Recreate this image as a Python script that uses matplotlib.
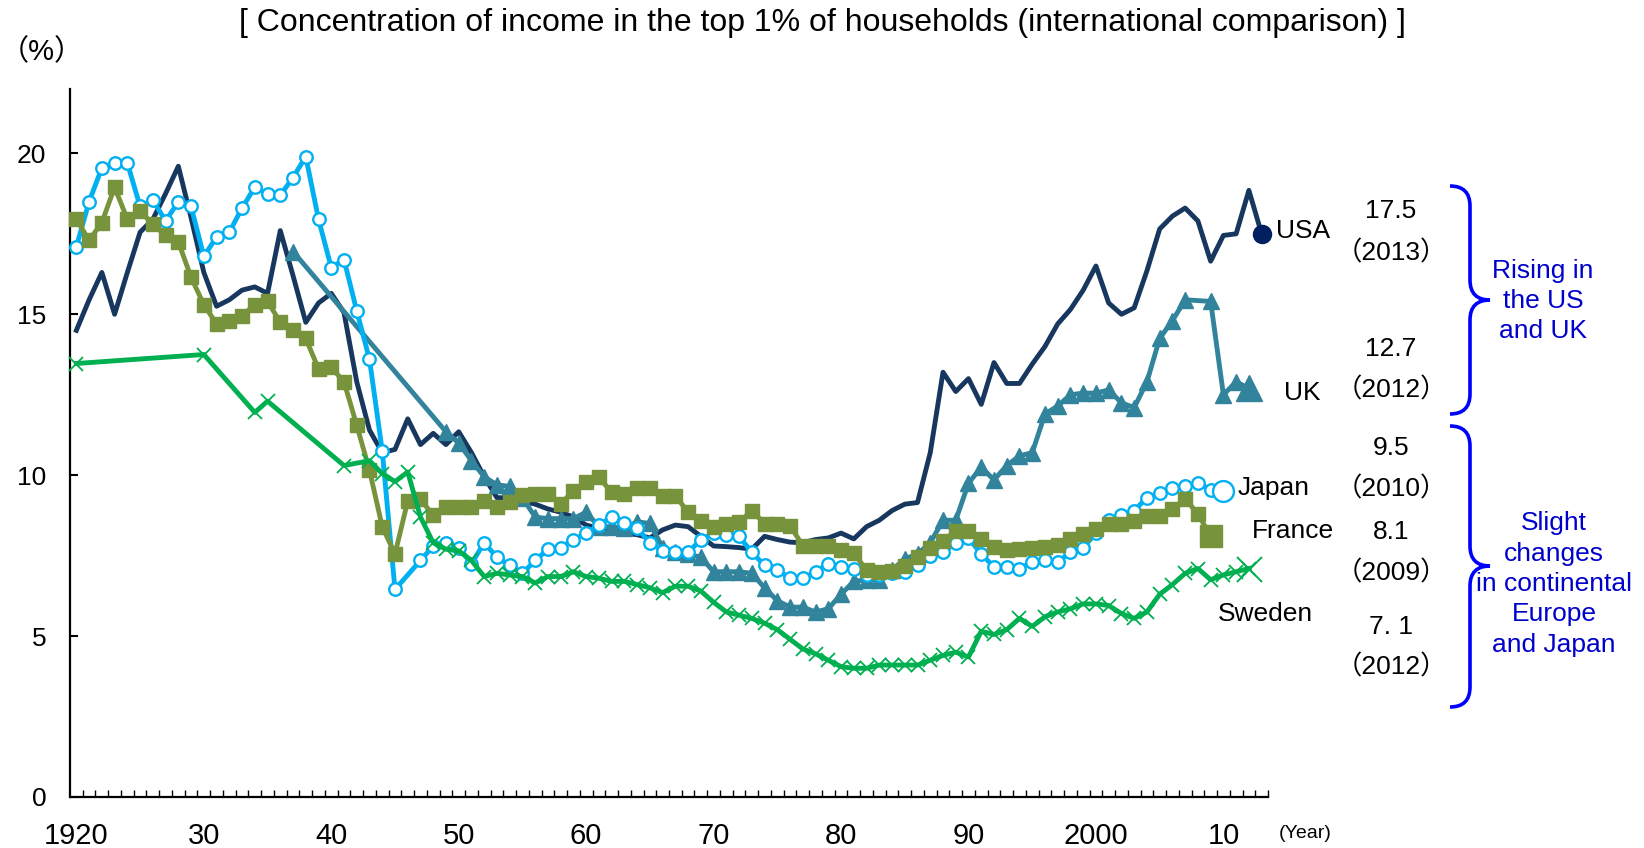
import numpy as np
import matplotlib
matplotlib.use("Agg")
import matplotlib.pyplot as plt
from matplotlib.path import Path
from matplotlib.patches import PathPatch

plt.rcParams['font.family'] = ['Liberation Sans', 'Noto Sans CJK JP', 'DejaVu Sans']

nan = np.nan

# Share of income held by the top 1% (%), one value per year 1920-2013
years = list(range(1920, 2014))

usa = [14.5, 15.45, 16.3, 15.0, 16.3, 17.55, 17.95, 18.75, 19.6, 18.0,
       16.3, 15.25, 15.45, 15.75, 15.85, 15.65, 17.6, 16.2, 14.75, 15.35,
       15.65, 15.05, 12.9, 11.4, 10.7, 10.8, 11.75, 10.95, 11.3, 10.95,
       11.35, 10.7, 9.95, 9.3, 9.3, 9.2, 9.1, 8.95, 8.85, 8.7,
       8.45, 8.35, 8.25, 8.2, 8.15, 8.05, 8.3, 8.45, 8.4, 8.1,
       7.8, 7.78, 7.75, 7.7, 8.1, 8.0, 7.92, 7.9, 8.0, 8.05,
       8.2, 8.02, 8.4, 8.6, 8.9, 9.1, 9.15, 10.7, 13.2, 12.6,
       13.0, 12.2, 13.5, 12.85, 12.85, 13.45, 14.0, 14.7, 15.15, 15.75,
       16.5, 15.35, 15.0, 15.2, 16.35, 17.65, 18.05, 18.3, 17.9, 16.65,
       17.45, 17.5, 18.85, 17.5]

uk = [nan] * 17 + [16.95] + [nan] * 11 + [
      11.35, 11.0, 10.45, 9.95, 9.7, 9.65, 9.3, 8.7, 8.65, 8.65,
      8.65, 8.85, 8.4, 8.4, 8.35, 8.55, 8.5, 7.75, 7.6, 7.55,
      7.45, 7.0, 7.0, 7.0, 6.95, 6.5, 6.1, 5.9, 5.9, 5.75,
      5.85, 6.3, 6.7, 6.75, 6.75, 7.05, 7.4, 7.55, 7.9, 8.6,
      8.6, 9.75, 10.25, 9.85, 10.3, 10.6, 10.7, 11.9, 12.15, 12.5,
      12.55, 12.55, 12.65, 12.25, 12.1, 12.9, 14.25, 14.8, 15.45, nan,
      15.4, 12.5, 12.9, 12.7, nan]

japan = [17.1, 18.5, 19.55, 19.7, 19.7, 18.35, 18.55, 17.9, 18.5, 18.35,
         16.8, 17.4, 17.55, 18.3, 18.95, 18.75, 18.7, 19.25, 19.9, 17.95,
         16.45, 16.7, 15.1, 13.6, 10.75, 6.45, nan, 7.35, 7.8, 7.9,
         7.75, 7.25, 7.9, 7.45, 7.2, 6.95, 7.35, 7.7, 7.75, 8.0,
         8.2, 8.45, 8.7, 8.5, 8.35, 7.9, 7.65, 7.6, 7.6, 8.0,
         8.2, 8.15, 8.1, 7.6, 7.2, 7.05, 6.8, 6.8, 7.0, 7.25,
         7.15, 7.1, 6.9, 6.9, 6.95, 7.0, 7.2, 7.5, 7.6, 7.9,
         8.05, 7.55, 7.15, 7.15, 7.1, 7.3, 7.35, 7.3, 7.6, 7.75,
         8.2, 8.6, 8.75, 8.9, 9.3, 9.45, 9.6, 9.65, 9.75, 9.55,
         9.5, nan, nan, nan]

france = [17.95, 17.3, 17.85, 18.95, 17.95, 18.2, 17.8, 17.45, 17.25, 16.15,
          15.3, 14.7, 14.8, 14.95, 15.3, 15.4, 14.75, 14.5, 14.25, 13.3,
          13.35, 12.9, 11.55, 10.15, 8.4, 7.55, 9.2, 9.25, 8.75, 9.0,
          9.0, 9.0, 9.2, 9.0, 9.18, 9.39, 9.42, 9.42, 9.1, 9.52,
          9.78, 9.93, 9.47, 9.42, 9.59, 9.59, 9.36, 9.36, 8.85, 8.59,
          8.38, 8.49, 8.54, 8.9, 8.49, 8.49, 8.43, 7.81, 7.81, 7.81,
          7.66, 7.58, 7.05, 7.0, 7.02, 7.19, 7.47, 7.74, 7.95, 8.28,
          8.28, 8.02, 7.76, 7.69, 7.7, 7.73, 7.76, 7.84, 8.02, 8.18,
          8.33, 8.49, 8.49, 8.59, 8.74, 8.74, 8.95, 9.26, 8.8, 8.1,
          nan, nan, nan, nan]

sweden = [13.47] + [nan] * 9 + [13.75, nan, nan, nan, 11.95, 12.3] + [nan] * 5 + [
          10.3, nan, 10.45, 10.05, 9.8, 10.1, 8.7, 7.9, 7.7,
          7.65, 7.35, 6.85, 6.95, 6.9, 6.85, 6.65, 6.85, 6.85, 7.0,
          6.85, 6.8, 6.7, 6.7, 6.6, 6.5, 6.35, 6.55, 6.55, 6.4,
          6.05, 5.75, 5.65, 5.55, 5.4, 5.2, 4.9, 4.6, 4.45, 4.25,
          4.05, 4.0, 4.0, 4.1, 4.1, 4.1, 4.1, 4.25, 4.4, 4.5,
          4.35, 5.15, 5.05, 5.2, 5.55, 5.3, 5.6, 5.75, 5.85, 6.0,
          6.0, 5.95, 5.7, 5.55, 5.75, 6.3, 6.6, 6.95, 7.1, 6.75,
          6.9, 7.0, 7.1, nan]

decade_years = [1920, 1930, 1940, 1950, 1960, 1970, 1980, 1990, 2000, 2010]
decade_labels = ['1920', '30', '40', '50', '60', '70', '80', '90', '2000', '10']

W, H = 1644, 848


def fx(x):
    return x / W


def fy(y):
    return 1 - y / H


fig = plt.figure(figsize=(W / 100, H / 100), dpi=100)
ax = fig.add_axes([fx(70), fy(797), (1268 - 70) / W, (797 - 89) / H])

yrs = np.array(years)


def draw(vals, color, z, big, **kw):
    v = np.array(vals, dtype=float)
    ok = ~np.isnan(v)
    ax.plot(yrs[ok], v[ok], color=color, lw=3.5, zorder=z, clip_on=False, **kw)
    last = np.where(ok)[0][-1]
    ax.plot(yrs[last], v[last], zorder=z + 0.5, clip_on=False, **big)


draw(usa, '#17375E', 2, dict(marker='o', ms=13, color='#002060'))
draw(uk, '#31849B', 3,
     dict(marker='^', ms=19, color='#31849B'),
     marker='^', ms=11)
draw(japan, '#00B0F0', 4,
     dict(marker='o', ms=15, mfc='white', mec='#00B0F0', mew=1.7),
     marker='o', ms=9, mfc='white', mec='#00B0F0', mew=1.7)
draw(france, '#77933C', 5,
     dict(marker='s', ms=16, color='#77933C'),
     marker='s', ms=9.5)
draw(sweden, '#00B050', 6,
     dict(marker='x', ms=18, color='#00B050', mew=1.4),
     marker='x', ms=10.5, mew=1.3)

ax.set_xlim(1919.5, 2013.5)
ax.set_ylim(0, 22)
for s in ['top', 'right']:
    ax.spines[s].set_visible(False)
for s in ['left', 'bottom']:
    ax.spines[s].set_linewidth(1.6)

ax.set_yticks([0, 5, 10, 15, 20])
ax.tick_params(axis='y', direction='in', length=6, width=1.5, pad=17, labelsize=19)
ax.set_xticks(decade_years)
ax.set_xticklabels(decade_labels)
ax.tick_params(axis='x', which='major', length=0, pad=18, labelsize=21)
ax.set_xticks(np.arange(1920.5, 2013.6, 1), minor=True)
ax.tick_params(axis='x', which='minor', direction='in', length=5, width=1)

fig.text(fx(1305), fy(834), '(Year)', ha='center', va='center', fontsize=14)
fig.text(fx(822), fy(23),
         '[ Concentration of income in the top 1% of households (international comparison) ]',
         ha='center', va='center', fontsize=23)
fig.text(fx(42), fy(52), '（%）', ha='center', va='center', fontsize=21)

# series names next to the last points
fig.text(fx(1276), fy(231), 'USA', ha='left', va='center', fontsize=19)
fig.text(fx(1284), fy(393), 'UK', ha='left', va='center', fontsize=19)
fig.text(fx(1238), fy(488), 'Japan', ha='left', va='center', fontsize=19)
fig.text(fx(1252), fy(531), 'France', ha='left', va='center', fontsize=19)
fig.text(fx(1218), fy(614), 'Sweden', ha='left', va='center', fontsize=19)

# latest values
latest = [('17.5', 211), ('（2013）', 253), ('12.7', 349), ('（2012）', 390),
          ('9.5', 448), ('（2010）', 489), ('8.1', 532), ('（2009）', 573),
          ('7. 1', 627), ('（2012）', 667)]
for txt, yy in latest:
    fig.text(fx(1391), fy(yy), txt, ha='center', va='center', fontsize=19)


def brace(yt, ym, yb, x0=1450, x1=1470, x2=1490, r=20):
    pts = [(x0, yt), (x1, yt), (x1, yt + r), (x1, ym - r), (x1, ym), (x2, ym),
           (x1, ym), (x1, ym + r), (x1, yb - r), (x1, yb), (x0, yb)]
    codes = [Path.MOVETO, Path.CURVE3, Path.CURVE3, Path.LINETO, Path.CURVE3, Path.CURVE3,
             Path.CURVE3, Path.CURVE3, Path.LINETO, Path.CURVE3, Path.CURVE3]
    p = Path([(fx(a), fy(b)) for a, b in pts], codes)
    fig.add_artist(PathPatch(p, transform=fig.transFigure, fill=False,
                             edgecolor='#0000FF', lw=2.6))


brace(186, 300, 414)
brace(426, 566, 707)

fig.text(fx(1543), fy(301), 'Rising in\nthe US\nand UK', ha='center', va='center',
         fontsize=19, color='#0000CC', linespacing=1.3)
fig.text(fx(1554), fy(584), 'Slight\nchanges\nin continental\nEurope\nand Japan',
         ha='center', va='center', fontsize=19, color='#0000CC', linespacing=1.33)

fig.savefig('out.png', dpi=100)
